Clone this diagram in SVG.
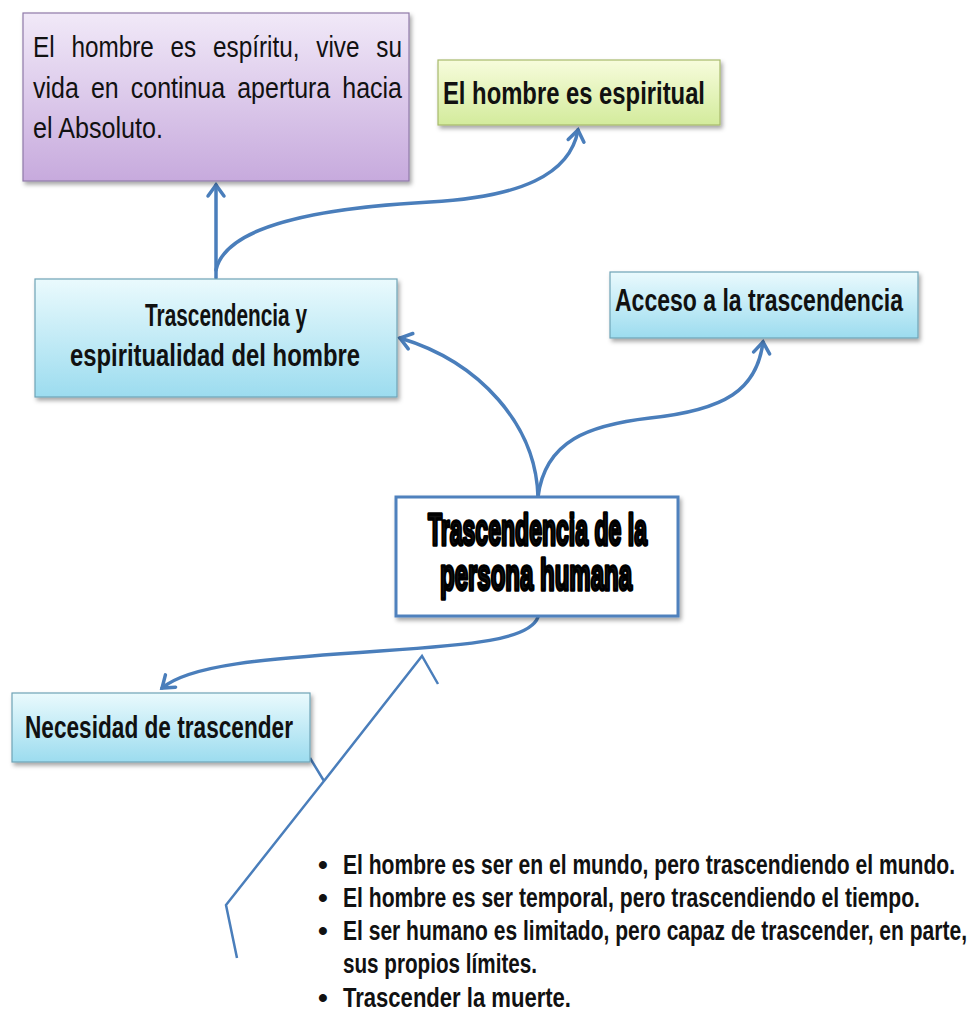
<svg xmlns="http://www.w3.org/2000/svg" width="972" height="1033" viewBox="0 0 972 1033">
<style>
.box{stroke-width:1.2}
.t{font-family:"Liberation Sans",Arial,sans-serif;fill:#111}
.b{font-weight:bold}
.conn{fill:none;stroke:#4a7ebb;stroke-width:3.5;stroke-linecap:round}
.thin{fill:none;stroke:#4a7ebb;stroke-width:2.5;stroke-linejoin:miter}
</style>
<defs>
<linearGradient id="gPurple" x1="0" y1="0" x2="0" y2="1"><stop offset="0" stop-color="#f1e9f8"/><stop offset="1" stop-color="#c7aadd"/></linearGradient>
<linearGradient id="gGreen" x1="0" y1="0" x2="0" y2="1"><stop offset="0" stop-color="#f7fcdc"/><stop offset="1" stop-color="#d3eb9c"/></linearGradient>
<linearGradient id="gBlue" x1="0" y1="0" x2="0" y2="1"><stop offset="0" stop-color="#eafafd"/><stop offset="1" stop-color="#9cdcef"/></linearGradient>
<filter id="sh" x="-10%" y="-10%" width="130%" height="140%"><feDropShadow dx="2" dy="3" stdDeviation="2" flood-color="#000" flood-opacity="0.35"/></filter>
<marker id="arr" markerUnits="userSpaceOnUse" markerWidth="30" markerHeight="30" viewBox="-15 -15 30 30" refX="0" refY="0" orient="auto"><path d="M-11,-8 L0,0 L-11,8" fill="none" stroke="#4a7ebb" stroke-width="3.5" stroke-linecap="round" stroke-linejoin="miter"/></marker>
</defs>
<rect width="972" height="1033" fill="#fff"/>

<g id="connectors">
<path class="conn" d="M216,278 L216,185" marker-end="url(#arr)"/>
<path class="conn" d="M216,270 C226,225 320,208 430,202 C520,197 570,175 578,130" marker-end="url(#arr)"/>
<path class="conn" d="M538,497 C536,425 480,362 400,338" marker-end="url(#arr)"/>
<path class="conn" d="M538,497 C545,440 590,425 650,418 C725,410 757,390 763,342" marker-end="url(#arr)"/>
<path class="conn" d="M538,617 C530,640 470,645 380,651 C260,659 190,665 162,688" marker-end="url(#arr)"/>
<path class="thin" d="M438,684 L422,656 L324,781 M310,758 L324,781 L226,905 L237,958"/>
</g>

<g id="node-absoluto">
<rect class="box" x="23" y="13" width="386" height="168" fill="url(#gPurple)" stroke="#8f7aa8" filter="url(#sh)"/>
<text class="t" font-size="29"><tspan x="33" y="57" textLength="369" lengthAdjust="spacingAndGlyphs" word-spacing="12">El hombre es espíritu, vive su</tspan><tspan x="33" y="98" textLength="369" lengthAdjust="spacingAndGlyphs" word-spacing="6">vida en continua apertura hacia</tspan><tspan x="33" y="138" textLength="130" lengthAdjust="spacingAndGlyphs">el Absoluto.</tspan></text>
</g>

<g id="node-espiritual">
<rect class="box" x="438" y="60" width="282" height="65" fill="url(#gGreen)" stroke="#a7b96c" filter="url(#sh)"/>
<text class="t b" font-size="31" transform="scale(0.77,1)" x="575.3" y="104" textLength="340.3" lengthAdjust="spacingAndGlyphs">El hombre es espiritual</text>
</g>

<g id="node-trasc-espiritualidad">
<rect class="box" x="35" y="279" width="362" height="118" fill="url(#gBlue)" stroke="#6fa3b6" filter="url(#sh)"/>
<text class="t b" font-size="31" transform="scale(0.72,1)"><tspan x="201.4" y="326" textLength="225" lengthAdjust="spacingAndGlyphs">Trascendencia y</tspan><tspan x="97.2" y="366" textLength="402.8" lengthAdjust="spacingAndGlyphs">espiritualidad del hombre</tspan></text>
</g>

<g id="node-acceso">
<rect class="box" x="610" y="272" width="308" height="66" fill="url(#gBlue)" stroke="#6fa3b6" filter="url(#sh)"/>
<text class="t b" font-size="31" transform="scale(0.742,1)" x="828.8" y="311" textLength="388.1" lengthAdjust="spacingAndGlyphs">Acceso a la trascendencia</text>
</g>

<g id="node-central">
<rect x="396" y="497" width="282" height="119" fill="#fff" stroke="#4f81bd" stroke-width="3" filter="url(#sh)"/>
<text class="t b" font-size="44" stroke="#000" stroke-width="3.6" stroke-linejoin="round" transform="scale(0.53,1)"><tspan x="807.5" y="545" textLength="413.2" lengthAdjust="spacingAndGlyphs">Trascendencia de la</tspan><tspan x="830.2" y="590" textLength="362.3" lengthAdjust="spacingAndGlyphs">persona humana</tspan></text>
</g>

<g id="node-necesidad">
<rect class="box" x="12" y="693" width="298" height="69" fill="url(#gBlue)" stroke="#6fa3b6" filter="url(#sh)"/>
<text class="t b" font-size="31" transform="scale(0.73,1)" x="34.25" y="738" textLength="367.1" lengthAdjust="spacingAndGlyphs">Necesidad de trascender</text>
</g>

<g id="bullets" class="t b" font-size="28">
<text x="318" y="874">•</text>
<text x="318" y="907">•</text>
<text x="318" y="940">•</text>
<text x="318" y="1007">•</text>
<g transform="scale(0.75,1)">
<text x="457.33" y="874" textLength="816" lengthAdjust="spacingAndGlyphs">El hombre es ser en el mundo, pero trascendiendo el mundo.</text>
<text x="457.33" y="907" textLength="769.3" lengthAdjust="spacingAndGlyphs">El hombre es ser temporal, pero trascendiendo el tiempo.</text>
<text x="457.33" y="940" textLength="832" lengthAdjust="spacingAndGlyphs">El ser humano es limitado, pero capaz de trascender, en parte,</text>
<text x="457.33" y="973" textLength="258.7" lengthAdjust="spacingAndGlyphs">sus propios límites.</text>
<text x="457.33" y="1007" textLength="304" lengthAdjust="spacingAndGlyphs">Trascender la muerte.</text>
</g>
</g>
</svg>
